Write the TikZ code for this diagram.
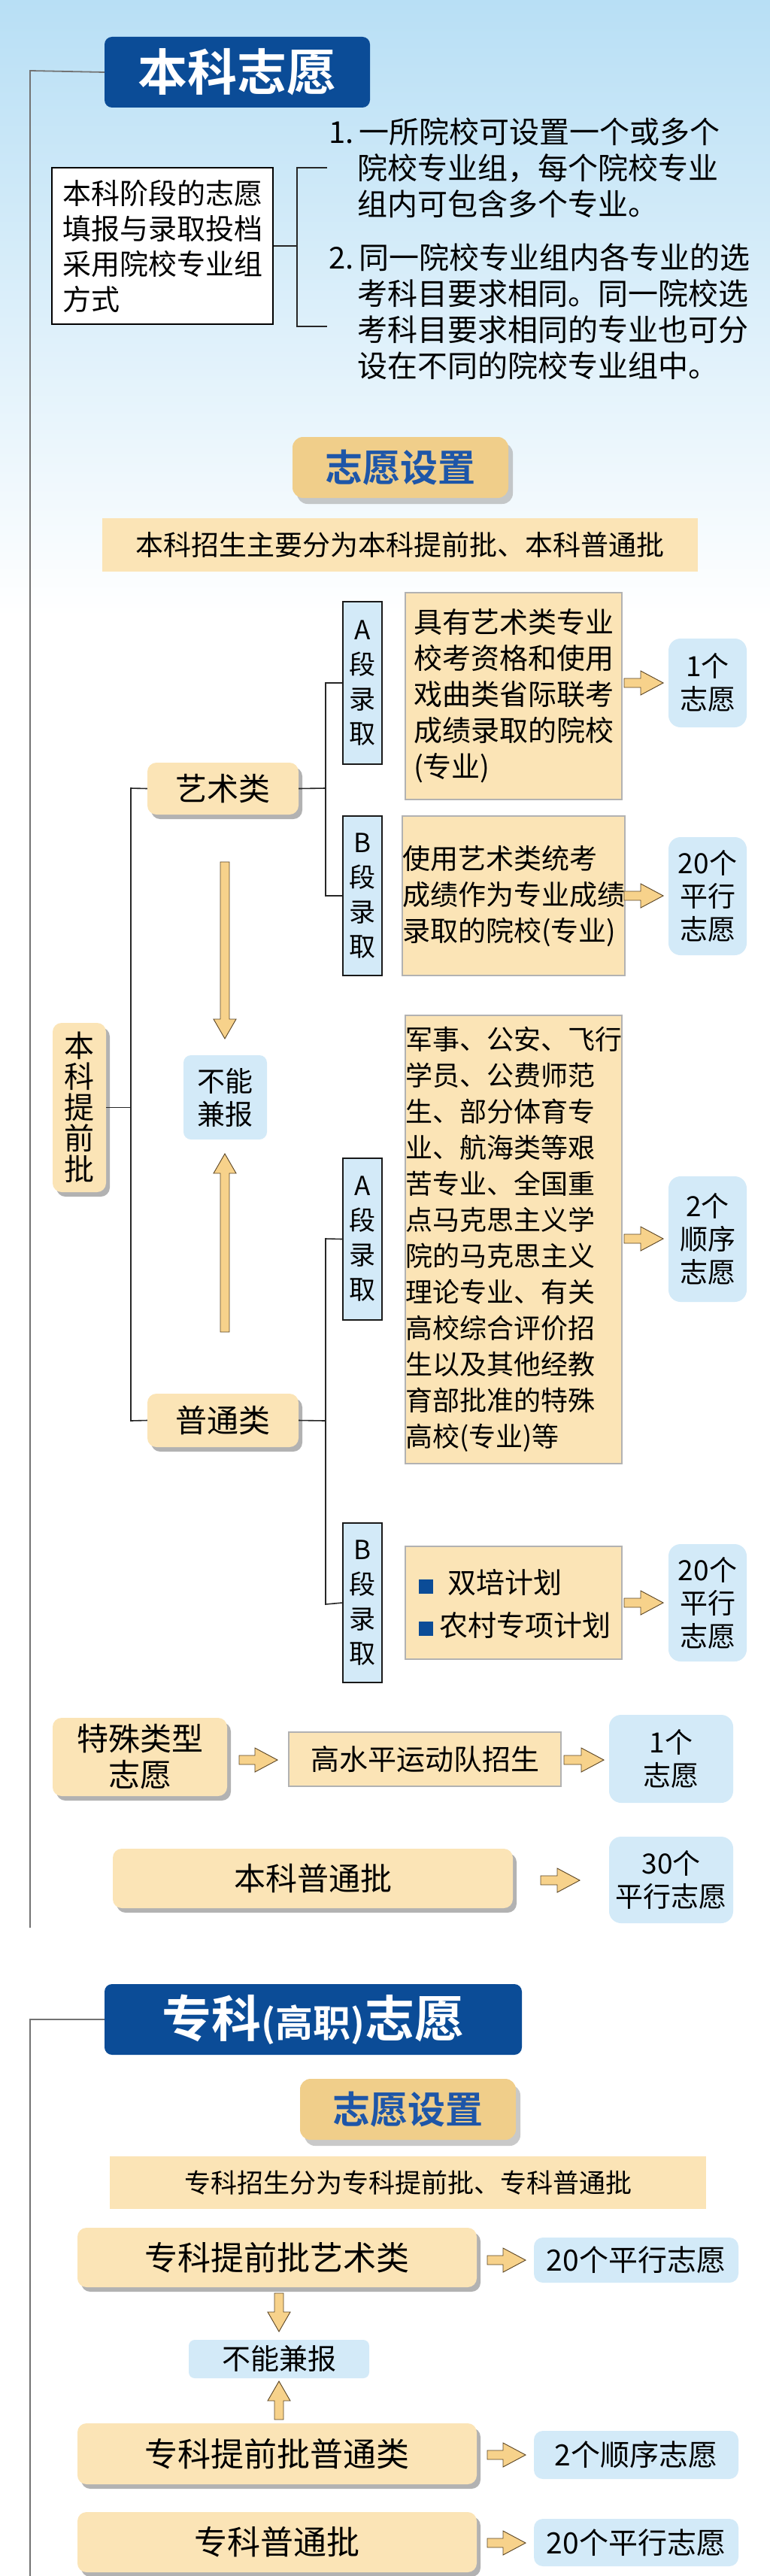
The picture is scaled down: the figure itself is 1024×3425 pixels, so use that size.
\documentclass[tikz,border=0pt]{standalone}
\usepackage{fontspec}
\setmainfont{Noto Sans CJK SC}[BoldFont={Noto Sans CJK SC Bold}]
\usetikzlibrary{shadows}
\definecolor{navy}{HTML}{0B4C97}
\definecolor{tan}{HTML}{FBE4B6}
\definecolor{tab}{HTML}{F0CE8A}
\definecolor{sky}{HTML}{D3EAF8}
\definecolor{arrf}{HTML}{F7D28B}
\definecolor{arrd}{HTML}{5A4424}
\definecolor{ttl}{HTML}{1E56A8}
\newcommand\bx[7]{\pgfmathsetmacro\bxcx{(#2+#4)/2}\pgfmathsetmacro\bxcy{(#3+#5)/2}\pgfmathsetmacro\bxww{#4-#2}\pgfmathsetmacro\bxhh{#5-#3}\node[#6,minimum width=\bxww pt,minimum height=\bxhh pt,inner sep=0pt] (#1) at (\bxcx,\bxcy) {#7};}
\newcommand\fatR[3]{\pgfmathsetmacro\fh{#2-30}\draw[arr] (#1,#3-6) -- (\fh,#3-6) -- (\fh,#3-16) -- (#2,#3) -- (\fh,#3+16) -- (\fh,#3+6) -- (#1,#3+6) -- cycle;}
\newcommand\fatV[4]{\pgfmathsetmacro\fh{#3-#4}\draw[arr] (#1-6,#2) -- (#1-6,\fh) -- (#1-15,\fh) -- (#1,#3) -- (#1+15,\fh) -- (#1+6,\fh) -- (#1+6,#2) -- cycle;}
\tikzset{
 arr/.style={fill=arrf,draw=arrd,line width=0.9pt,line join=miter},
 tree/.style={draw=black!85,line width=1.6pt},
 main/.style={draw=black!55,line width=1.8pt},
 title/.style={fill=navy,rounded corners=10pt,text=white,font=\bfseries\fontsize{66}{70}\selectfont},
 tabs/.style={fill=tab,rounded corners=14pt,drop shadow={shadow xshift=6pt,shadow yshift=-8pt,fill=black!35,opacity=0.6},text=ttl,font=\bfseries\fontsize{50}{52}\selectfont},
 banner/.style={fill=tan,font=\fontsize{37}{40}\selectfont},
 pill/.style={fill=tan,rounded corners=12pt,drop shadow={shadow xshift=5pt,shadow yshift=-6pt,fill=black!30,opacity=1},font=\fontsize{42}{46}\selectfont},
 tbox/.style={fill=tan,draw=black!30,line width=1.2pt,font=\fontsize{38}{48}\selectfont,align=left},
 seg/.style={fill=sky,draw=black!90,line width=1.4pt,font=\fontsize{35}{46}\selectfont,align=center},
 sbox/.style={fill=sky,rounded corners=16pt,font=\fontsize{37}{44}\selectfont,align=center},
}
\begin{document}
\begin{tikzpicture}[x=1pt,y=-1pt]
\useasboundingbox (0,0) rectangle (1024,3425);
\fill[white] (0,0) rectangle (1024,3425);
\shade[top color={rgb,255:red,184;green,223;blue,245},bottom color=white] (0,0) rectangle (1024,820);
% ===== section 1 =====
\bx{t1}{139}{49}{492}{143}{title}{本科志愿}
\coordinate (l1a) at (40,94);
\coordinate (l1b) at (40,2563);
\draw[main] (t1.west) -- (l1a) -- (l1b);
\bx{intro}{69}{223}{363}{431}{fill=white,draw=black,line width=1.4pt,font=\fontsize{38}{47}\selectfont,align=left}{本科阶段的志愿\\填报与录取投档\\采用院校专业组\\方式}
\coordinate (br) at (395,327);
\coordinate (br1) at (435,223);
\coordinate (br2) at (435,434);
\draw[tree,line width=1.3pt] (intro.east) -- (br) (br1) -- (395,223) -- (395,434) -- (br2);
\node[anchor=north west,inner sep=0pt,font=\fontsize{40}{48}\selectfont,align=left] (it1) at (437,156) {1.\,一所院校可设置一个或多个\\\hspace*{38pt}院校专业组，每个院校专业\\\hspace*{38pt}组内可包含多个专业。};
\node[anchor=north west,inner sep=0pt,font=\fontsize{40}{48}\selectfont,align=left] (it2) at (437,323) {2.\,同一院校专业组内各专业的选\\\hspace*{38pt}考科目要求相同。同一院校选\\\hspace*{38pt}考科目要求相同的专业也可分\\\hspace*{38pt}设在不同的院校专业组中。};
\bx{tab1}{389}{581}{676}{662}{tabs}{志愿设置}
\bx{ban1}{136}{689}{928}{760}{banner}{本科招生主要分为本科提前批、本科普通批}
% tree
\bx{tqp}{70}{1360}{141}{1585}{pill,font=\fontsize{40}{41}\selectfont,align=center}{本\\科\\提\\前\\批}
\bx{ysl}{196}{1014}{397}{1083}{pill}{艺术类}
\bx{ptl}{196}{1853}{397}{1924}{pill}{普通类}
\coordinate (tr1) at (174,1048);
\coordinate (tr2) at (174,1889);
\draw[tree] (tqp.east) -- (tqp.east -| tr1);
\draw[tree] (ysl.west) -- (tr1) -- (tr2) -- (ptl.west);
\bx{bnjb}{244}{1403}{355}{1515}{sbox,rounded corners=10pt}{不能\\兼报}
\fatV{299}{1146}{1381}{26}
\fatV{299}{1771}{1534}{-26}
% art A/B
\bx{a1}{456}{800}{508}{1016}{seg}{A\\段\\录\\取}
\bx{b1}{456}{1085}{508}{1297}{seg}{B\\段\\录\\取}
\draw[tree] (ysl.east) -- (433,1048);
\draw[tree] (a1.west) -- (433,908) -- (433,1191) -- (b1.west);
\bx{x1}{539}{788}{827}{1063}{tbox}{具有艺术类专业\\校考资格和使用\\戏曲类省际联考\\成绩录取的院校\\(专业)}
\bx{x2}{539}{1085}{827}{1297}{tbox,font=\fontsize{37}{48}\selectfont}{使用艺术类统考\\成绩作为专业成绩\\录取的院校(专业)}
\bx{s1}{889}{849}{993}{967}{sbox}{1个\\志愿}
\bx{s2}{889}{1113}{993}{1270}{sbox}{20个\\平行\\志愿}
\fatR{830}{882}{908}
\fatR{830}{882}{1191}
% general A/B
\bx{a2}{456}{1540}{508}{1755}{seg}{A\\段\\录\\取}
\bx{b2}{456}{2025}{508}{2237}{seg}{B\\段\\录\\取}
\draw[tree] (ptl.east) -- (433,1889);
\draw[tree] (a2.west) -- (433,1647) -- (433,2133) -- (b2.west);
\bx{x3}{539}{1350}{827}{1946}{tbox,font=\fontsize{36}{48}\selectfont}{军事、公安、飞行\\学员、公费师范\\生、部分体育专\\业、航海类等艰\\苦专业、全国重\\点马克思主义学\\院的马克思主义\\理论专业、有关\\高校综合评价招\\生以及其他经教\\育部批准的特殊\\高校(专业)等}
\bx{x4}{539}{2056}{827}{2206}{tbox}{}
\node[anchor=west,inner sep=0pt,font=\fontsize{38}{40}\selectfont] (bl1) at (557,2104) {\textcolor{navy}{\rule{19pt}{19pt}}\hspace{19pt}双培计划};
\node[anchor=west,inner sep=0pt,font=\fontsize{38}{40}\selectfont] (bl2) at (557,2161) {\textcolor{navy}{\rule{19pt}{19pt}}\hspace{8pt}农村专项计划};
\bx{s3}{889}{1564}{993}{1731}{sbox}{2个\\顺序\\志愿}
\bx{s4}{889}{2053}{993}{2209}{sbox}{20个\\平行\\志愿}
\fatR{830}{882}{1647}
\fatR{830}{882}{2131}
% special
\bx{tslx}{70}{2284}{302}{2388}{pill,align=center,font=\fontsize{42}{48}\selectfont}{特殊类型\\志愿}
\bx{gsp}{384}{2303}{746}{2375}{tbox,align=center,font=\fontsize{38}{40}\selectfont}{高水平运动队招生}
\bx{s5}{810}{2280}{975}{2397}{sbox}{1个\\志愿}
\fatR{318}{369}{2340}
\fatR{750}{803}{2340}
\bx{bkpt}{150}{2458}{682}{2537}{pill}{本科普通批}
\bx{s6}{810}{2442}{975}{2557}{sbox}{30个\\平行志愿}
\fatR{719}{771}{2500}
% ===== section 2 =====
\bx{t2}{139}{2638}{694}{2732}{title}{专科{\fontsize{50}{50}\selectfont(高职)}志愿}
\coordinate (l2a) at (40,2685);
\coordinate (l2b) at (40,3425);
\draw[main] (t2.west) -- (l2a) -- (l2b);
\bx{tab2}{399}{2764}{686}{2845}{tabs}{志愿设置}
\bx{ban2}{146}{2867}{939}{2937}{banner,font=\fontsize{35}{40}\selectfont}{专科招生分为专科提前批、专科普通批}
\bx{zy}{103}{2962}{634}{3041}{pill,font=\fontsize{44}{46}\selectfont}{专科提前批艺术类}
\bx{zp}{103}{3222}{634}{3303}{pill,font=\fontsize{44}{46}\selectfont}{专科提前批普通类}
\bx{zt}{103}{3340}{634}{3420}{pill,font=\fontsize{44}{46}\selectfont}{专科普通批}
\bx{zn}{251}{3111}{491}{3162}{sbox,rounded corners=8pt,font=\fontsize{38}{40}\selectfont}{不能兼报}
\fatV{371}{3049}{3100}{26}
\fatV{371}{3217}{3166}{-26}
\bx{z1}{710}{2975}{982}{3035}{sbox,rounded corners=12pt,font=\fontsize{39}{40}\selectfont}{20个平行志愿}
\bx{z2}{710}{3232}{982}{3296}{sbox,rounded corners=12pt,font=\fontsize{39}{40}\selectfont}{2个顺序志愿}
\bx{z3}{710}{3349}{982}{3412}{sbox,rounded corners=12pt,font=\fontsize{39}{40}\selectfont}{20个平行志愿}
\fatR{648}{699}{3005}
\fatR{648}{699}{3264}
\fatR{648}{699}{3381}
\end{tikzpicture}
\end{document}
